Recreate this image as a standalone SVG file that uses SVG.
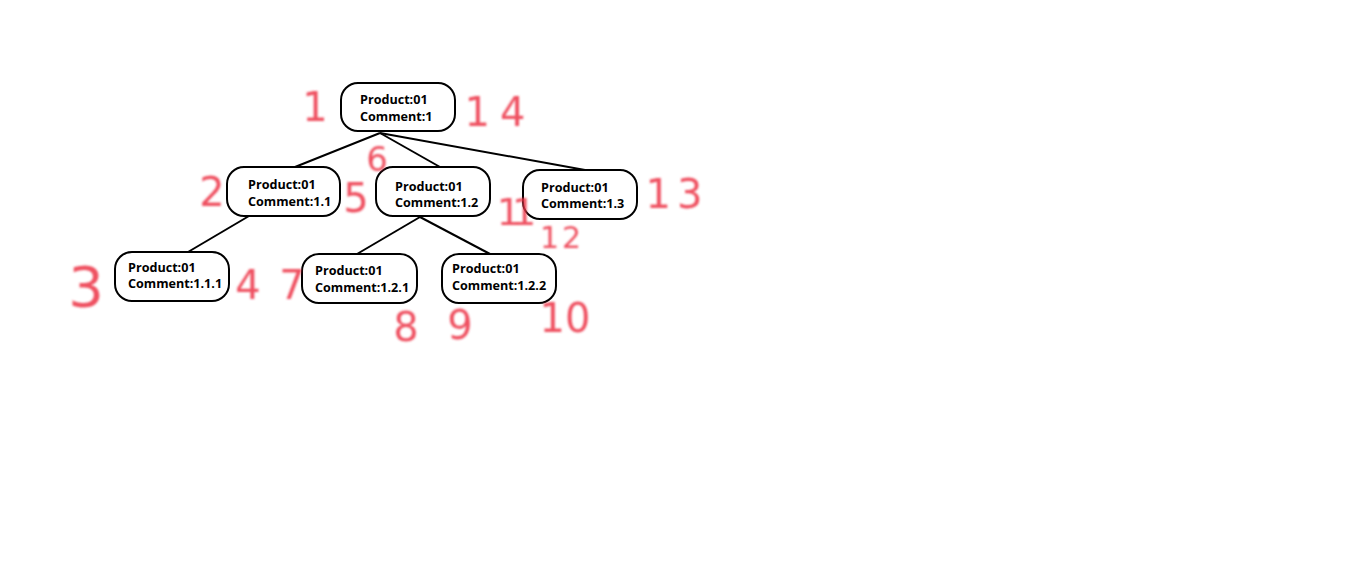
<svg xmlns="http://www.w3.org/2000/svg" width="1350" height="570" viewBox="0 0 1350 570">
  <defs>
    <style>
      .node rect { fill: #ffffff; stroke: #000000; stroke-width: 2; }
      .node text { font-family: "Open Sans", "Noto Sans", "Liberation Sans", sans-serif; font-weight: 700; font-size: 12.6px; fill: #000000; }
      .edge { stroke: #000000; stroke-width: 2; fill: none; }
      .num { font-family: "DejaVu Sans", "Liberation Sans", sans-serif; fill: #ec3445; fill-opacity: 0.85; text-anchor: middle; filter: url(#soft); }
    </style>
    <filter id="soft" x="-20%" y="-20%" width="140%" height="140%">
      <feGaussianBlur stdDeviation="0.8"/>
    </filter>
  </defs>
  <rect x="0" y="0" width="1350" height="570" fill="#ffffff"/>

  <!-- tree connectors -->
  <g id="connectors">
    <line class="edge" x1="380" y1="133" x2="295" y2="167"/>
    <line class="edge" x1="380" y1="133" x2="440" y2="167"/>
    <line class="edge" x1="380" y1="133" x2="585" y2="170" stroke-width="2.5"/>
    <line class="edge" x1="249" y1="216" x2="188" y2="252"/>
    <line class="edge" x1="420" y1="217" x2="357" y2="254"/>
    <line class="edge" x1="420" y1="217" x2="490" y2="254"/>
  </g>

  <!-- tree nodes -->
  <g id="node-1" class="node">
    <rect x="341" y="83" width="114" height="48" rx="17"/>
    <text x="360" y="104">Product:01</text>
    <text x="360" y="121">Comment:1</text>
  </g>
  <g id="node-1-1" class="node">
    <rect x="227" y="167" width="113" height="49" rx="17"/>
    <text x="248" y="189">Product:01</text>
    <text x="248" y="206">Comment:1.1</text>
  </g>
  <g id="node-1-2" class="node">
    <rect x="376" y="167" width="114" height="49" rx="17"/>
    <text x="395" y="191">Product:01</text>
    <text x="395" y="207">Comment:1.2</text>
  </g>
  <g id="node-1-3" class="node">
    <rect x="523" y="170" width="114" height="49" rx="17"/>
    <text x="541" y="192">Product:01</text>
    <text x="541" y="208">Comment:1.3</text>
  </g>
  <g id="node-1-1-1" class="node">
    <rect x="115" y="252" width="114" height="49" rx="17"/>
    <text x="128" y="272">Product:01</text>
    <text x="128" y="288">Comment:1.1.1</text>
  </g>
  <g id="node-1-2-1" class="node">
    <rect x="302" y="254" width="115" height="49" rx="17"/>
    <text x="315" y="275">Product:01</text>
    <text x="315" y="292">Comment:1.2.1</text>
  </g>
  <g id="node-1-2-2" class="node">
    <rect x="442" y="254" width="114" height="49" rx="17"/>
    <text x="452" y="273">Product:01</text>
    <text x="452" y="290">Comment:1.2.2</text>
  </g>

  <!-- hand-written traversal numbers -->
  <g id="numbers" font-size="40">
    <text class="num" x="315" y="121">1</text>
    <text class="num" x="500" y="126" letter-spacing="10">14</text>
    <text class="num" x="212" y="206">2</text>
    <text class="num" x="356" y="212">5</text>
    <text class="num" x="377" y="171" font-size="34">6</text>
    <text class="num" x="86" y="306" font-size="56">3</text>
    <text class="num" x="248" y="299">4</text>
    <text class="num" x="292" y="299">7</text>
    <text class="num" x="406" y="341">8</text>
    <text class="num" x="460" y="339">9</text>
    <text class="num" x="565" y="332">10</text>
    <text class="num" x="512" y="225" font-size="38" letter-spacing="-9">11</text>
    <text class="num" x="562" y="248" font-size="30" letter-spacing="3">12</text>
    <text class="num" x="677" y="208" letter-spacing="6">13</text>
  </g>
</svg>
